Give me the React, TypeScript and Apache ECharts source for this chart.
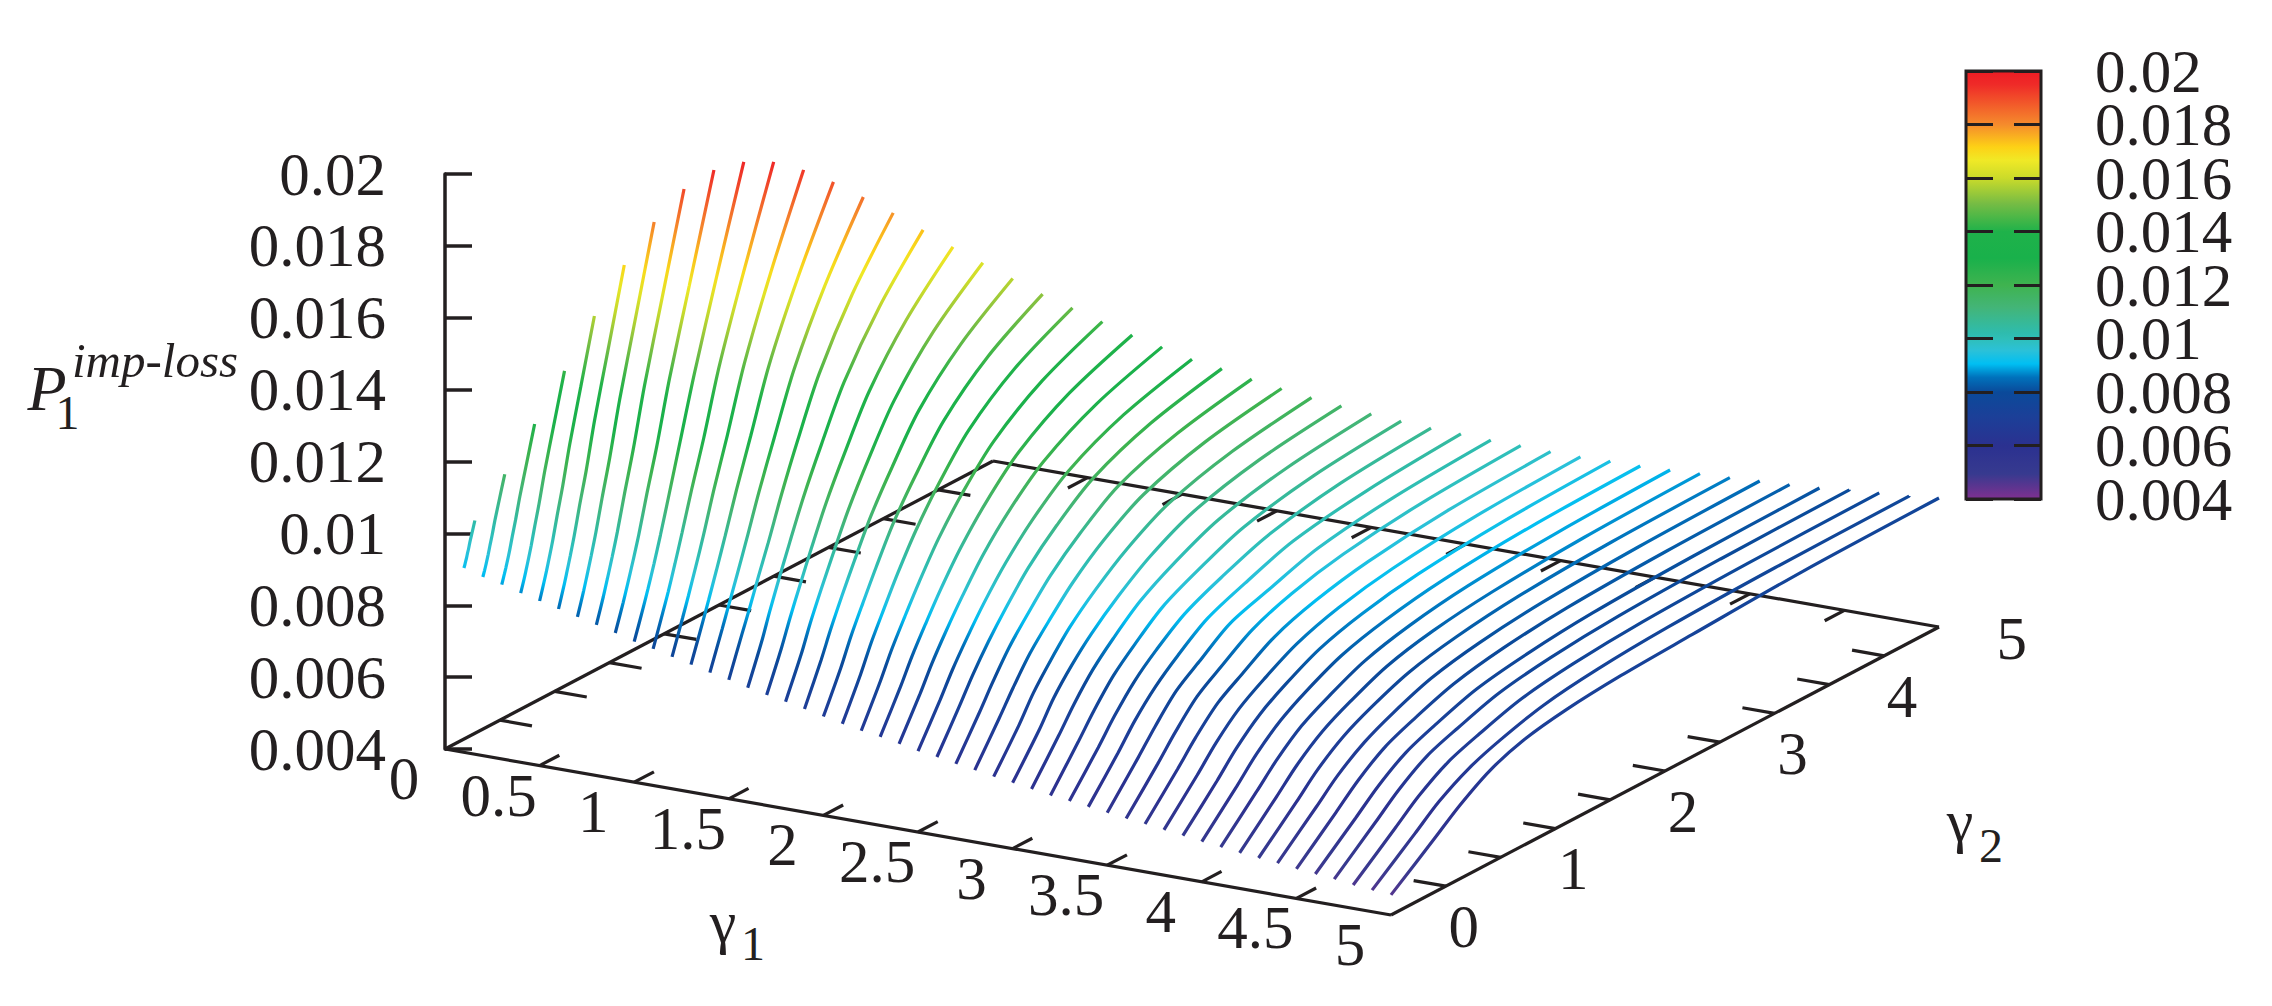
import React, { useEffect, useRef } from "react";
import * as echarts from "echarts";

// gamma_1 of each curve (one curve per row of the table below)
const gamma1Values = [
  0.1, 0.2, 0.3, 0.4, 0.5, 0.6, 0.7, 0.8, 0.9, 1.0, 1.1, 1.2, 1.3, 1.4, 1.5, 1.6, 1.7,
  1.8, 1.9, 2.0, 2.1, 2.2, 2.3, 2.4, 2.5, 2.6, 2.7, 2.8, 2.9, 3.0, 3.1, 3.2, 3.3, 3.4,
  3.5, 3.6, 3.7, 3.8, 3.9, 4.0, 4.1, 4.2, 4.3, 4.4, 4.5, 4.6, 4.7, 4.8, 4.9, 5.0,
];
// gamma_2 / gamma_1 of each column: each curve ends on gamma_2 = gamma_1
const gamma2Fractions = [0, 0.08, 0.125, 0.18, 0.24, 0.32, 0.42, 0.55, 0.75, 1];
// P at every (gamma_1, gamma_2) in units of 1e-5
const surfaceE5 = [
  [913, 920, 925, 931, 937, 948, 959, 977, 1000, 1029],
  [897, 913, 923, 936, 951, 973, 999, 1037, 1088, 1151],
  [885, 911, 926, 946, 969, 1004, 1045, 1104, 1184, 1284],
  [871, 906, 928, 956, 988, 1036, 1093, 1176, 1287, 1425],
  [858, 904, 931, 967, 1008, 1070, 1143, 1250, 1393, 1571],
  [845, 900, 934, 977, 1027, 1102, 1189, 1319, 1491, 1706],
  [832, 895, 934, 983, 1040, 1126, 1227, 1375, 1572, 1819],
  [819, 888, 931, 985, 1048, 1142, 1253, 1416, 1633, 1904],
  [806, 879, 924, 981, 1047, 1147, 1264, 1435, 1664, 1950],
  [791, 870, 917, 978, 1050, 1152, 1282, 1450, 1684, 1966],
  [780, 867, 917, 984, 1061, 1168, 1293, 1472, 1696, 1959],
  [767, 860, 914, 983, 1061, 1174, 1302, 1478, 1692, 1930],
  [755, 853, 910, 982, 1063, 1175, 1305, 1476, 1675, 1890],
  [742, 845, 905, 978, 1060, 1173, 1302, 1464, 1651, 1841],
  [731, 839, 898, 975, 1055, 1169, 1298, 1451, 1623, 1790],
  [718, 827, 898, 978, 1062, 1170, 1287, 1428, 1585, 1736],
  [707, 817, 887, 966, 1050, 1156, 1268, 1402, 1547, 1682],
  [698, 808, 880, 958, 1039, 1142, 1251, 1377, 1512, 1631],
  [687, 799, 869, 947, 1027, 1128, 1231, 1351, 1473, 1580],
  [675, 786, 857, 933, 1013, 1112, 1211, 1323, 1436, 1530],
  [664, 776, 847, 922, 1001, 1095, 1192, 1297, 1401, 1485],
  [654, 765, 834, 907, 983, 1075, 1168, 1266, 1363, 1440],
  [646, 755, 822, 894, 968, 1055, 1144, 1236, 1326, 1396],
  [636, 745, 812, 883, 954, 1040, 1125, 1211, 1293, 1356],
  [625, 734, 800, 870, 940, 1021, 1103, 1185, 1260, 1315],
  [618, 728, 793, 863, 930, 1010, 1087, 1166, 1234, 1282],
  [608, 717, 782, 854, 917, 994, 1068, 1144, 1204, 1246],
  [600, 709, 773, 844, 905, 979, 1051, 1120, 1176, 1213],
  [591, 698, 766, 832, 896, 962, 1030, 1095, 1147, 1181],
  [583, 690, 759, 824, 883, 947, 1013, 1073, 1121, 1151],
  [575, 684, 749, 817, 874, 939, 995, 1051, 1095, 1122],
  [566, 676, 740, 808, 863, 927, 977, 1030, 1071, 1095],
  [560, 667, 731, 798, 853, 913, 960, 1009, 1048, 1069],
  [553, 660, 725, 789, 843, 903, 946, 993, 1026, 1046],
  [546, 653, 716, 784, 832, 893, 930, 974, 1005, 1022],
  [539, 645, 708, 775, 822, 880, 923, 957, 985, 1000],
  [533, 638, 700, 764, 809, 865, 905, 937, 963, 976],
  [526, 630, 692, 753, 799, 850, 889, 919, 943, 955],
  [519, 622, 684, 744, 790, 839, 875, 903, 925, 936],
  [512, 615, 676, 734, 779, 826, 860, 887, 907, 916],
  [506, 608, 667, 725, 767, 813, 846, 871, 889, 898],
  [499, 601, 660, 716, 758, 803, 834, 856, 873, 881],
  [494, 594, 653, 708, 749, 791, 820, 842, 857, 863],
  [489, 588, 645, 698, 738, 779, 807, 827, 841, 847],
  [482, 581, 638, 692, 728, 767, 794, 813, 825, 830],
  [477, 574, 630, 683, 718, 756, 780, 798, 809, 814],
  [472, 570, 626, 679, 712, 749, 772, 788, 798, 802],
  [465, 562, 617, 668, 701, 737, 759, 774, 783, 787],
  [460, 555, 609, 657, 691, 724, 745, 759, 768, 771],
  [456, 550, 604, 657, 692, 715, 730, 740, 754, 759],
];
const gammaTicks = [0, 0.5, 1, 1.5, 2, 2.5, 3, 3.5, 4, 4.5, 5];
const gamma2Labels = [0, 1, 2, 3, 4, 5];
const colorbarLabels = ["0.02", "0.018", "0.016", "0.014", "0.012", "0.01", "0.008", "0.006", "0.004"];
const paletteValues = [
  0.004, 0.00494, 0.00598, 0.00706, 0.008, 0.00855, 0.00905, 0.00955, 0.01, 0.0102, 0.01117,
  0.012, 0.013, 0.014, 0.01504, 0.016, 0.01666, 0.01716, 0.018, 0.0195, 0.02,
];
const paletteColors = [
  "#7f3090", "#373a8f", "#2b3190", "#1c3f98", "#0a4a9a", "#0072bc", "#00bff3", "#2bc1d8", "#2fbfb8", "#2ebcae",
  "#43b577", "#3fb34f", "#19b14b", "#1fb24a", "#76bc44", "#cbdb2a", "#f0e926", "#fdd116", "#f58b2c", "#ef2a28", "#ed1c24",
];

const INK = "#231f20";
const FONT = "'Liberation Serif'";
const PMIN = 0.004;
const PMAX = 0.02;
const surfaceP = surfaceE5.map((row) => row.map((v) => v * 1e-5));

// Orthographic projection of the 3D box on the page
const project = (g1: number, g2: number, p: number): [number, number] => [
  445 + (g1 / 5) * 946 + (g2 / 5) * 548,
  749 + (g1 / 5) * 166 - (g2 / 5) * 288 - ((p - PMIN) / (PMAX - PMIN)) * 575,
];

const colorAt = (p: number): string => {
  const v = paletteValues;
  if (p <= v[0]) return paletteColors[0];
  for (let i = 1; i < v.length; i++) {
    if (p <= v[i]) {
      return echarts.color.lerp((p - v[i - 1]) / (v[i] - v[i - 1]), [paletteColors[i - 1], paletteColors[i]]) as string;
    }
  }
  return paletteColors[paletteColors.length - 1];
};

const curveSeries = () =>
  surfaceP.map((row, k) => {
    const g1 = gamma1Values[k];
    const pts = row.map((p, j) => project(g1, gamma2Fractions[j] * g1, p));
    const [x0, y0] = pts[0];
    const [x1, y1] = pts[pts.length - 1];
    const dx = x1 - x0;
    const dy = y1 - y0;
    const len2 = dx * dx + dy * dy;
    const stops: { offset: number; color: string }[] = [];
    let last = 0;
    for (let j = 0; j < row.length - 1; j++) {
      for (let s = 0; s < 4; s++) {
        const u = s / 4;
        const px = pts[j][0] + (pts[j + 1][0] - pts[j][0]) * u;
        const py = pts[j][1] + (pts[j + 1][1] - pts[j][1]) * u;
        const off = Math.max(last, Math.min(1, ((px - x0) * dx + (py - y0) * dy) / len2));
        last = off;
        stops.push({ offset: off, color: colorAt(row[j] + (row[j + 1] - row[j]) * u) });
      }
    }
    stops.push({ offset: 1, color: colorAt(row[row.length - 1]) });
    return {
      type: "line",
      name: "gamma1=" + g1,
      xAxisIndex: 0,
      yAxisIndex: 0,
      data: pts,
      symbol: "none",
      smooth: 0.3,
      clip: false,
      z: 5,
      lineStyle: { width: 3.2, cap: "butt", color: new echarts.graphic.LinearGradient(x0, y0, x1, y1, stops, true) },
    };
  });

const floorLines = () => {
  const seg = (a: [number, number], b: [number, number]) => ({
    coords: [project(a[0], a[1], PMIN), project(b[0], b[1], PMIN)],
  });
  const out = [seg([0, 0], [5, 0]), seg([5, 0], [5, 5]), seg([5, 5], [0, 5]), seg([0, 5], [0, 0])];
  gammaTicks.slice(1, -1).forEach((t) => {
    out.push(seg([t, 0], [t, 0.18]));
    out.push(seg([t, 5], [t, 4.82]));
    out.push(seg([0, t], [0.17, t]));
    out.push(seg([5, t], [4.83, t]));
  });
  return out;
};

const text = (s: string, x: number, y: number, size: number, italic = false, align = "center") => ({
  type: "text",
  x,
  y,
  z: 10,
  style: {
    text: s,
    fill: INK,
    font: `${italic ? "italic " : ""}${size}px ${FONT}`,
    textAlign: align,
    align,
    verticalAlign: "middle",
    textVerticalAlign: "middle",
  },
});

export default function App() {
  const ref = useRef<HTMLDivElement>(null);
  useEffect(() => {
    const chart = echarts.init(ref.current!, null, { renderer: "svg" });
    const barStops = paletteValues
      .map((v, i) => ({ offset: (PMAX - v) / (PMAX - PMIN), color: paletteColors[i] }))
      .reverse();
    chart.setOption({
      animation: false,
      backgroundColor: "#ffffff",
      grid: [
        { left: 0, top: 0, width: 2272, height: 1006, show: false },
        { left: 445, top: 174, width: 1, height: 575, show: false },
        {
          left: 1966,
          top: 71,
          width: 75,
          height: 428,
          show: true,
          borderColor: INK,
          borderWidth: 3,
          backgroundColor: new echarts.graphic.LinearGradient(0, 0, 0, 1, barStops),
        },
      ],
      xAxis: [
        { type: "value", gridIndex: 0, min: 0, max: 2272, show: false },
        { type: "value", gridIndex: 1, min: 0, max: 1, show: false },
        { type: "value", gridIndex: 2, min: 0, max: 1, show: false },
      ],
      yAxis: [
        { type: "value", gridIndex: 0, min: 0, max: 1006, inverse: true, show: false },
        {
          type: "value",
          gridIndex: 1,
          min: PMIN,
          max: PMAX,
          interval: 0.002,
          position: "left",
          axisLine: { show: true, lineStyle: { color: INK, width: 3.5 } },
          axisTick: { show: true, inside: true, length: 27, lineStyle: { color: INK, width: 3.5 } },
          axisLabel: { fontFamily: FONT, fontSize: 61, color: INK, lineHeight: 44, margin: 59, showMinLabel: true, showMaxLabel: true },
          splitLine: { show: false },
        },
        {
          type: "value",
          gridIndex: 2,
          min: PMIN,
          max: PMAX,
          interval: 0.002,
          position: "left",
          axisLine: { show: false },
          axisTick: { show: true, inside: true, length: 27, lineStyle: { color: INK, width: 3 } },
          axisLabel: { show: false },
          splitLine: { show: false },
        },
        {
          type: "value",
          gridIndex: 2,
          min: PMIN,
          max: PMAX,
          interval: 0.002,
          position: "right",
          axisLine: { show: false },
          axisTick: { show: true, inside: true, length: 27, lineStyle: { color: INK, width: 3 } },
          axisLabel: { show: false },
          splitLine: { show: false },
        },
      ],
      series: [
        {
          type: "lines",
          coordinateSystem: "cartesian2d",
          xAxisIndex: 0,
          yAxisIndex: 0,
          data: floorLines(),
          symbol: "none",
          z: 3,
          lineStyle: { color: INK, width: 3.2, opacity: 1, curveness: 0 },
        },
        ...curveSeries(),
      ],
      graphic: [
        ...gammaTicks.map((t) => {
          const [x, y] = project(t, 0, PMIN);
          return text(String(t), x - 41, y + 29.4, 61);
        }),
        ...gamma2Labels.map((t) => {
          const [x, y] = project(5, t, PMIN);
          return text(String(t), x + 72.7, y + 11.5, 61);
        }),
        ...colorbarLabels.map((s) => text(s, 2095, 71 + ((PMAX - Number(s)) / (PMAX - PMIN)) * 428, 61, false, "left")),
        text("P", 47, 388, 64, true),
        text("1", 67.5, 412, 48),
        text("imp-loss", 72, 360, 49, true, "left"),
        text("γ", 723, 922, 60),
        text("1", 753, 943, 48),
        text("γ", 1960, 821, 60),
        text("2", 1991, 845, 48),
      ],
    });
    return () => chart.dispose();
  }, []);
  return (
    <div
      ref={ref}
      style={{ position: "fixed", left: 0, top: 0, width: 2272, height: 1006, background: "#fff" }}
    />
  );
}
